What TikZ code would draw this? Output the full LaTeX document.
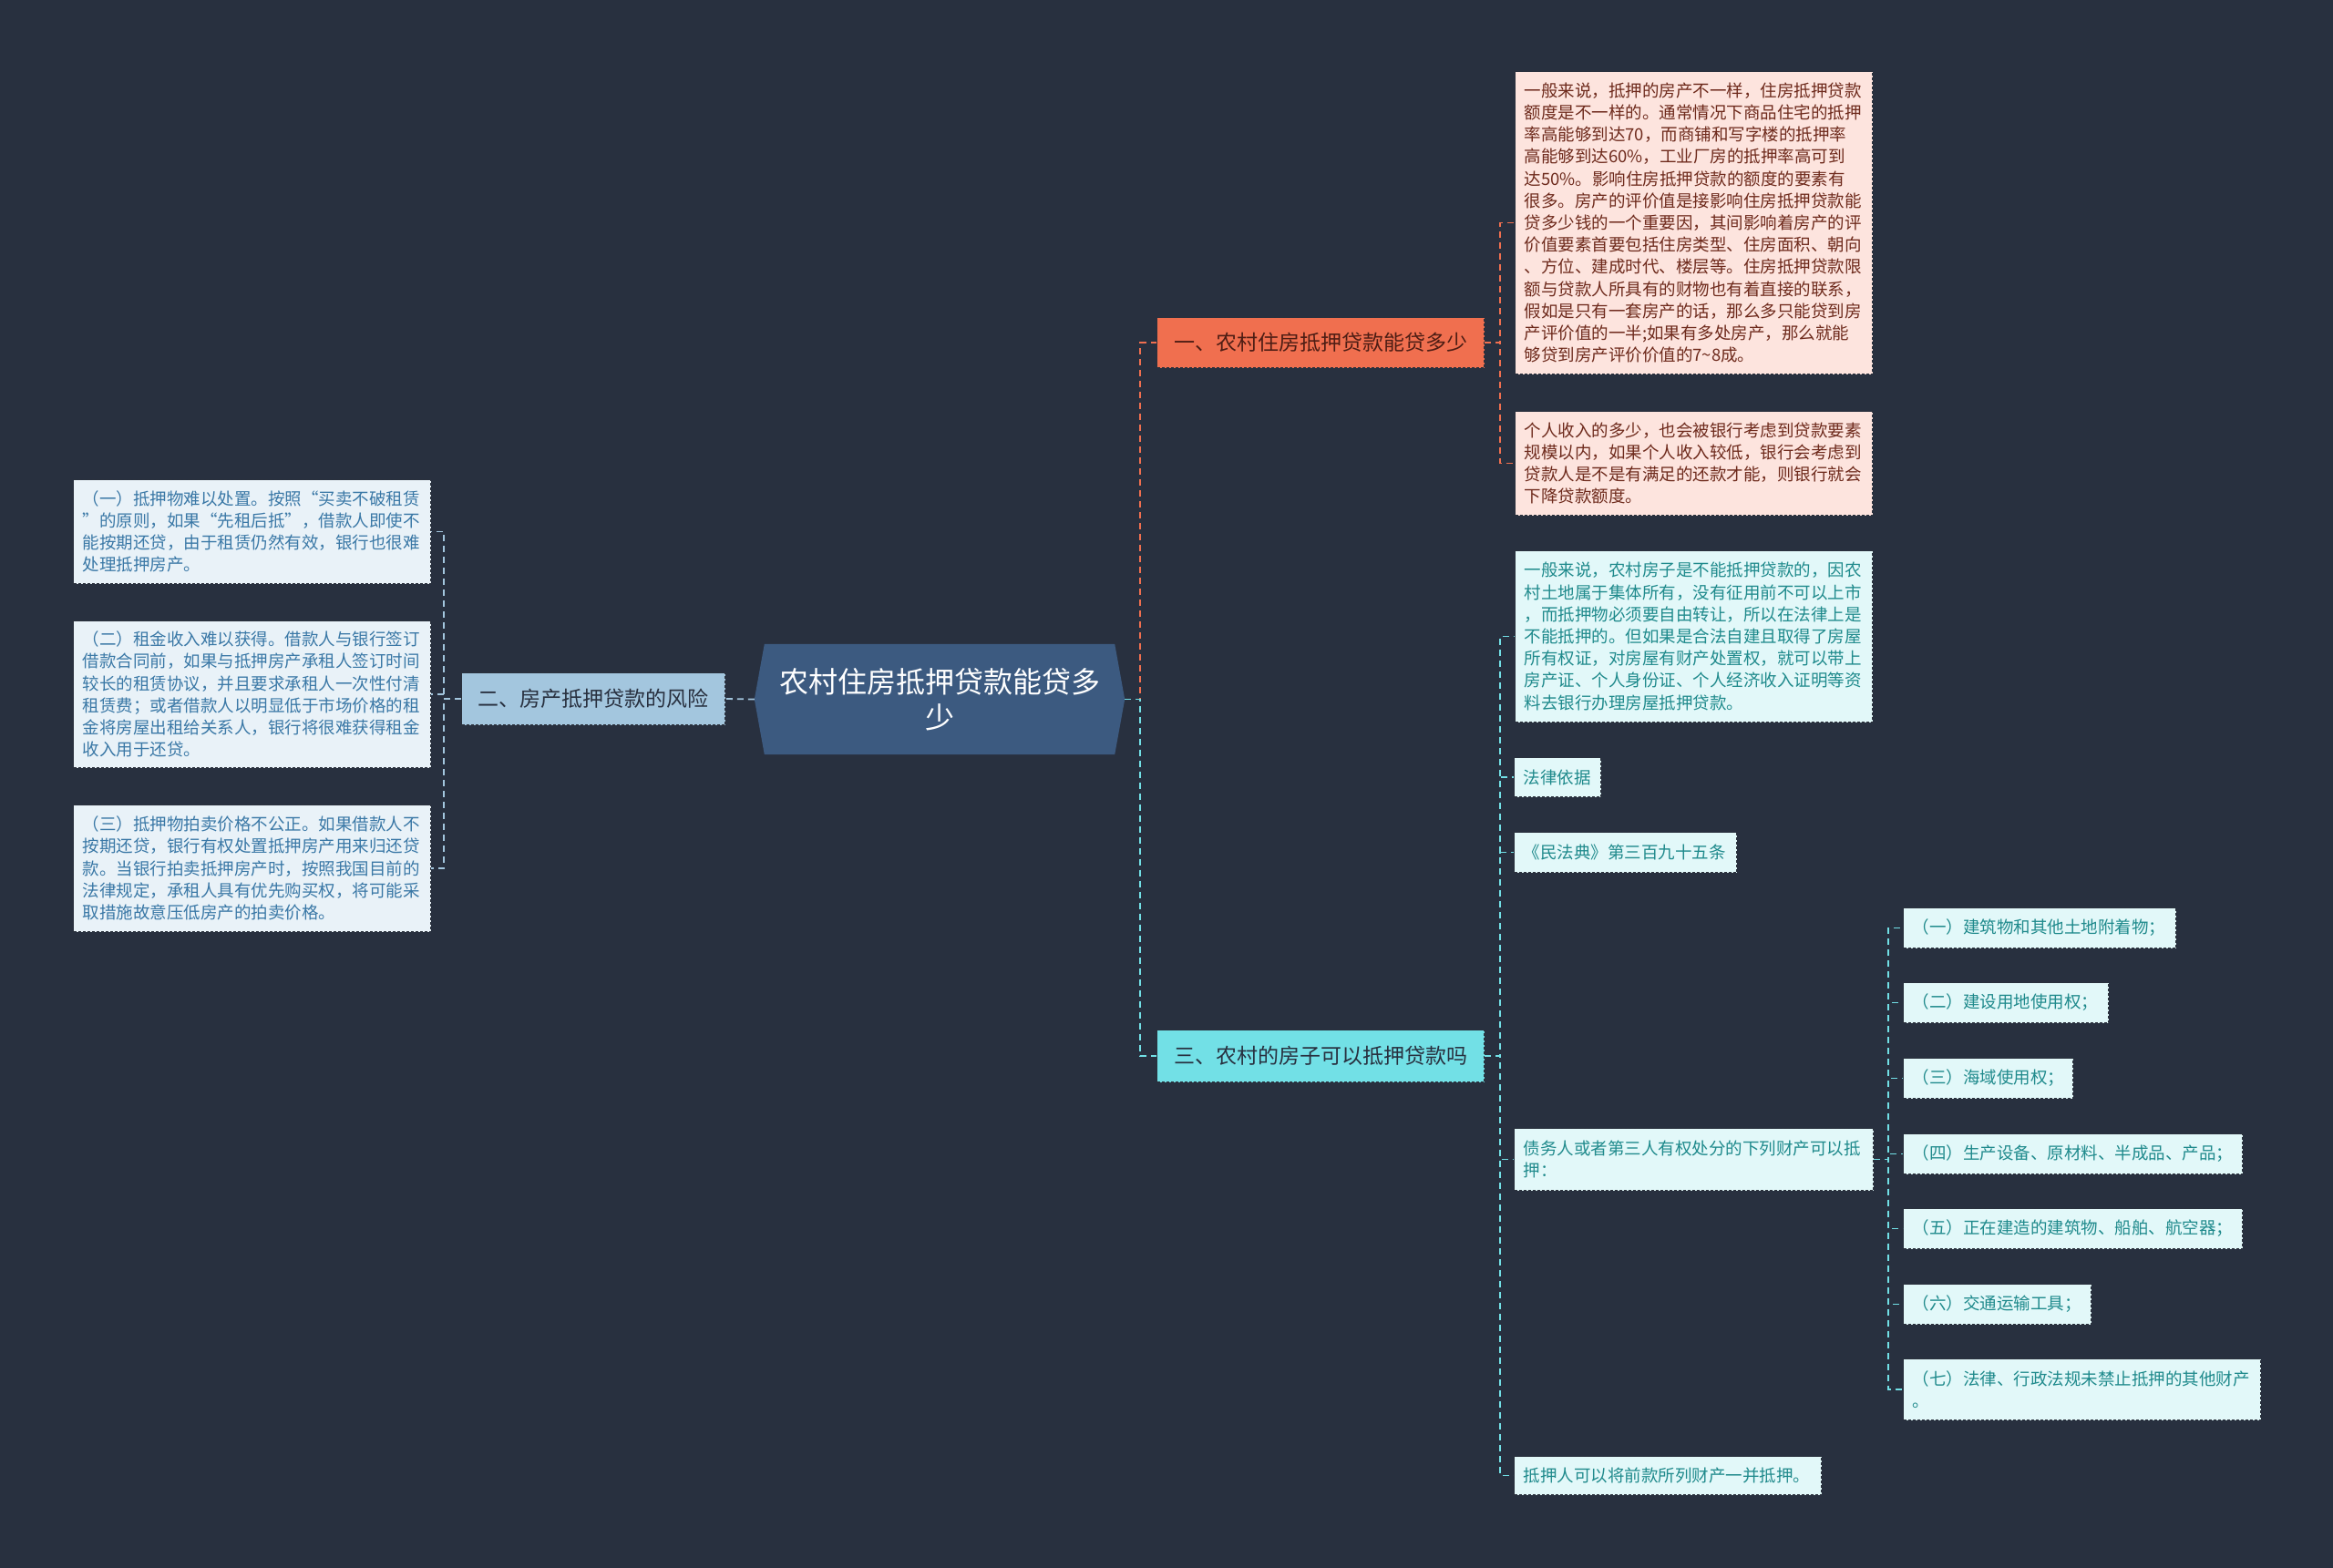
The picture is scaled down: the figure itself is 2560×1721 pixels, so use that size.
\documentclass[tikz,border=0pt]{standalone}
\usepackage{fontspec}
\setmainfont{Noto Sans CJK SC}
\pgfdeclarelayer{background}
\pgfsetlayers{background,main}
\definecolor{bgc}{HTML}{28303F}
\definecolor{hexc}{HTML}{3C5A80}
\definecolor{orc}{HTML}{F06F4F}
\definecolor{orl}{HTML}{FDE4DE}
\definecolor{ort}{HTML}{6E2A1C}
\definecolor{cyc}{HTML}{72E0E6}
\definecolor{cyl}{HTML}{E2F8F9}
\definecolor{cyt}{HTML}{1F8A8C}
\definecolor{blc}{HTML}{A3C6DE}
\definecolor{bll}{HTML}{E9F2F8}
\definecolor{blt}{HTML}{3A78A6}
\definecolor{brd}{HTML}{2B313C}
\begin{document}
\begin{tikzpicture}[x=1pt,y=-1pt,
  boxbase/.style={rectangle, anchor=north west, draw=brd, line width=1pt, dash pattern=on 3pt off 2pt, inner xsep=10pt, inner ysep=0pt},
  leaf/.style={boxbase, align=left, font=\fontsize{18.5}{24.2}\selectfont},
  pinkleaf/.style={leaf, fill=orl, text=ort},
  cyanleaf/.style={leaf, fill=cyl, text=cyt},
  blueleaf/.style={leaf, fill=bll, text=blt},
  branchbox/.style={boxbase, align=center, font=\fontsize{23}{28}\selectfont},
  lnO/.style={draw=orc, line width=1.8pt, dash pattern=on 7pt off 5pt},
  lnC/.style={draw=cyc, line width=1.8pt, dash pattern=on 7pt off 5pt},
  lnB/.style={draw=blc, line width=1.8pt, dash pattern=on 7pt off 5pt}
]
\begin{pgfonlayer}{background}
\fill[bgc] (0,0) rectangle (2560,1721);
\end{pgfonlayer}
\useasboundingbox (0,0) rectangle (2560,1721);

% center
\node[minimum width=406, minimum height=121, inner sep=0pt, align=center, text=white, font=\fontsize{32}{39}\selectfont] (c) at (1031,767.5) {农村住房抵押贷款能贷多\\少};
\begin{pgfonlayer}{background}
\fill[hexc] (c.west) -- ([xshift=11]c.north west) -- ([xshift=-11]c.north east) -- (c.east) -- ([xshift=-11]c.south east) -- ([xshift=11]c.south west) -- cycle;
\end{pgfonlayer}

% branches
\node[branchbox, fill=orc, text=ort!70!black, minimum width=359, minimum height=55] (b1) at (1269,348) {一、农村住房抵押贷款能贷多少};
\node[branchbox, fill=cyc, text=bgc, minimum width=359, minimum height=57] (b3) at (1269,1130) {三、农村的房子可以抵押贷款吗};
\node[branchbox, fill=blc, text=bgc, minimum width=289, minimum height=57] (b2) at (506,738) {二、房产抵押贷款的风险};

% branch 1 leaves
\node[pinkleaf, text width=372, minimum height=332] (r1a) at (1662,78) {一般来说，抵押的房产不一样，住房抵押贷款\\额度是不一样的。通常情况下商品住宅的抵押\\率高能够到达70，而商铺和写字楼的抵押率\\高能够到达60\%，工业厂房的抵押率高可到\\达50\%。影响住房抵押贷款的额度的要素有\\很多。房产的评价值是接影响住房抵押贷款能\\贷多少钱的一个重要因，其间影响着房产的评\\价值要素首要包括住房类型、住房面积、朝向\\、方位、建成时代、楼层等。住房抵押贷款限\\额与贷款人所具有的财物也有着直接的联系，\\假如是只有一套房产的话，那么多只能贷到房\\产评价值的一半;如果有多处房产，那么就能\\够贷到房产评价价值的7\textasciitilde 8成。};
\node[pinkleaf, text width=372, minimum height=114] (r1b) at (1662,451) {个人收入的多少，也会被银行考虑到贷款要素\\规模以内，如果个人收入较低，银行会考虑到\\贷款人是不是有满足的还款才能，则银行就会\\下降贷款额度。};

% branch 3 leaves
\node[cyanleaf, text width=372, minimum height=188] (r3a) at (1662,604) {一般来说，农村房子是不能抵押贷款的，因农\\村土地属于集体所有，没有征用前不可以上市\\，而抵押物必须要自由转让，所以在法律上是\\不能抵押的。但如果是合法自建且取得了房屋\\所有权证，对房屋有财产处置权，就可以带上\\房产证、个人身份证、个人经济收入证明等资\\料去银行办理房屋抵押贷款。};
\node[cyanleaf, text width=75, minimum height=43] (r3b) at (1661,831) {法律依据};
\node[cyanleaf, text width=224, minimum height=44] (r3c) at (1661,913) {《民法典》第三百九十五条};
\node[cyanleaf, text width=374, minimum height=68] (r3d) at (1661,1238) {债务人或者第三人有权处分的下列财产可以抵\\押：};
\node[cyanleaf, text width=317, minimum height=42] (r3e) at (1661,1598) {抵押人可以将前款所列财产一并抵押。};

% sub items
\node[cyanleaf, text width=279, minimum height=44] (s1) at (2088,996) {（一）建筑物和其他土地附着物；};
\node[cyanleaf, text width=205, minimum height=44] (s2) at (2088,1078) {（二）建设用地使用权；};
\node[cyanleaf, text width=166, minimum height=44] (s3) at (2088,1161) {（三）海域使用权；};
\node[cyanleaf, text width=352, minimum height=44] (s4) at (2088,1244) {（四）生产设备、原材料、半成品、产品；};
\node[cyanleaf, text width=352, minimum height=44] (s5) at (2088,1326) {（五）正在建造的建筑物、船舶、航空器；};
\node[cyanleaf, text width=186, minimum height=44] (s6) at (2088,1409) {（六）交通运输工具；};
\node[cyanleaf, text width=372, minimum height=67] (s7) at (2088,1491) {（七）法律、行政法规未禁止抵押的其他财产\\。};

% left leaves
\node[blueleaf, text width=372, minimum height=114] (l1) at (80,526) {（一）抵押物难以处置。按照“买卖不破租赁\\”的原则，如果“先租后抵”，借款人即使不\\能按期还贷，由于租赁仍然有效，银行也很难\\处理抵押房产。};
\node[blueleaf, text width=372, minimum height=161] (l2) at (80,681) {（二）租金收入难以获得。借款人与银行签订\\借款合同前，如果与抵押房产承租人签订时间\\较长的租赁协议，并且要求承租人一次性付清\\租赁费；或者借款人以明显低于市场价格的租\\金将房屋出租给关系人，银行将很难获得租金\\收入用于还贷。};
\node[blueleaf, text width=372, minimum height=139] (l3) at (80,883) {（三）抵押物拍卖价格不公正。如果借款人不\\按期还贷，银行有权处置抵押房产用来归还贷\\款。当银行拍卖抵押房产时，按照我国目前的\\法律规定，承租人具有优先购买权，将可能采\\取措施故意压低房产的拍卖价格。};

% connectors
\begin{pgfonlayer}{background}
\draw[lnO] (c.east) -- ++(17,0) |- (b1.west);
\draw[lnC] (c.east) -- ++(17,0) |- (b3.west);
\draw[lnB] (c.west) -- (b2.east);

\draw[lnO] (b1.east) -- ++(17,0) |- (r1a.west);
\draw[lnO] (b1.east) -- ++(17,0) |- (r1b.west);

\foreach \n in {r3a,r3b,r3c,r3d,r3e}
  \draw[lnC] (b3.east) -- ++(17,0) |- (\n.west);
\foreach \n in {s1,s2,s3,s4,s5,s6,s7}
  \draw[lnC] (r3d.east) -- ++(16,0) |- (\n.west);
\foreach \n in {l1,l2,l3}
  \draw[lnB] (b2.west) -- ++(-19,0) |- (\n.east);
\end{pgfonlayer}
\end{tikzpicture}
\end{document}
